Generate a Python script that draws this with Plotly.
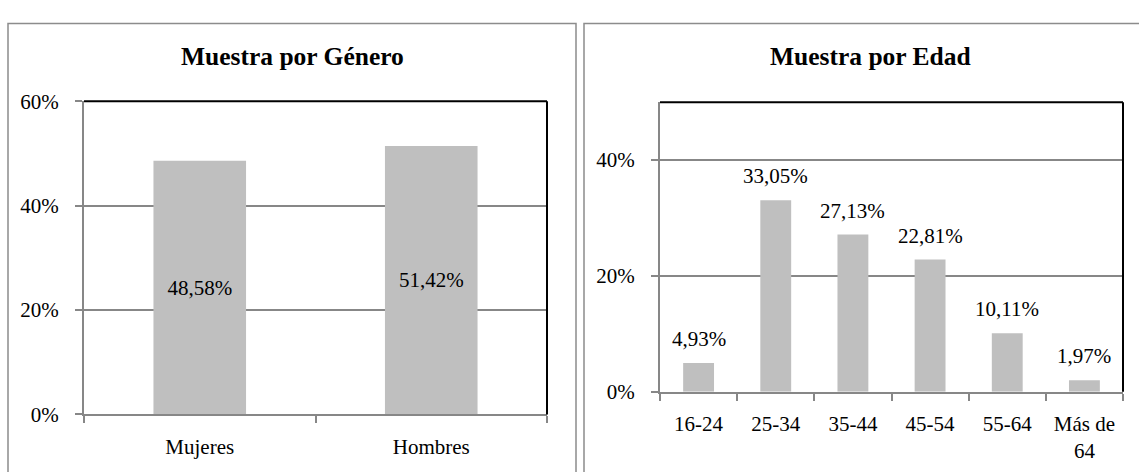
import plotly.graph_objects as go

W, H = 1139, 472

# ---- data ----
gender_categories = ["Mujeres", "Hombres"]
gender_values = [48.58, 51.42]
age_categories = ["16-24", "25-34", "35-44", "45-54", "55-64", "Más de<br>64"]
age_values = [4.93, 33.05, 27.13, 22.81, 10.11, 1.97]
title_left = "Muestra por Género"
title_right = "Muestra por Edad"

FONT = "Liberation Serif"
BAR = "#BFBFBF"
GRID = "#878787"
TXT = 21
TITLE = 25.5


def fmt(v):
    return f"{v:.2f}%".replace(".", ",")


def px(x):
    return x / W


def py(y):
    return (H - y) / H


fig = go.Figure()

fig.add_trace(go.Bar(
    x=gender_categories, y=gender_values, xaxis="x", yaxis="y",
    marker=dict(color=BAR, line=dict(width=0)),
    text=[fmt(v) for v in gender_values], textposition="inside",
    insidetextanchor="middle", textangle=0,
    textfont=dict(family=FONT, size=TXT, color="black"),
    showlegend=False, hoverinfo="skip",
))

fig.add_trace(go.Bar(
    x=age_categories, y=age_values, xaxis="x2", yaxis="y2",
    marker=dict(color=BAR, line=dict(width=0)),
    showlegend=False, hoverinfo="skip",
))

annotations = []
for c, v in zip(age_categories, age_values):
    annotations.append(dict(
        x=c, y=v, xref="x2", yref="y2", text=fmt(v), showarrow=False,
        yanchor="bottom", yshift=10,
        font=dict(family=FONT, size=TXT, color="black"),
    ))

annotations.append(dict(
    x=px(292), y=py(47), xref="paper", yref="paper", text=f"<b>{title_left}</b>",
    showarrow=False, xanchor="center", yanchor="middle",
    font=dict(family=FONT, size=TITLE, color="black"),
))
annotations.append(dict(
    x=px(870), y=py(47), xref="paper", yref="paper", text=f"<b>{title_right}</b>",
    showarrow=False, xanchor="center", yanchor="middle",
    font=dict(family=FONT, size=TITLE, color="black"),
))

axis_common = dict(
    showline=True, linecolor=GRID, linewidth=2,
    ticks="outside", ticklen=7, tickcolor=GRID, tickwidth=2,
    tickfont=dict(family=FONT, size=TXT, color="black"),
    zeroline=False, fixedrange=True,
)

shapes = []
# panel borders
for x0, x1 in [(8, 576), (584, 1160)]:
    shapes.append(dict(type="rect", xref="paper", yref="paper",
                       x0=px(x0), x1=px(x1), y0=py(490), y1=py(12),
                       line=dict(color="#8C8C8C", width=1.5), layer="below"))
# black top/right plot borders
for xa, ya in [("x", "y"), ("x2", "y2")]:
    shapes.append(dict(type="line", xref=f"{xa} domain", yref=f"{ya} domain",
                       x0=0, x1=1, y0=1, y1=1, line=dict(color="black", width=2)))
    shapes.append(dict(type="line", xref=f"{xa} domain", yref=f"{ya} domain",
                       x0=1, x1=1, y0=0, y1=1, line=dict(color="black", width=2)))

fig.update_layout(
    width=W, height=H,
    margin=dict(l=0, r=0, t=0, b=0),
    paper_bgcolor="white", plot_bgcolor="white",
    bargap=0.6,
    font=dict(family=FONT, color="black"),
    xaxis=dict(domain=[px(84), px(547)], anchor="y", tickson="boundaries",
               showgrid=False, ticklabelstandoff=12, **axis_common),
    yaxis=dict(domain=[py(424), py(94)], anchor="x", range=[0, 60], dtick=20,
               ticksuffix="%", showgrid=True, gridcolor=GRID, gridwidth=2,
               ticklabelstandoff=12, **axis_common),
    xaxis2=dict(domain=[px(660), px(1123)], anchor="y2", tickson="boundaries",
                showgrid=False, ticklabelstandoff=12, **axis_common),
    yaxis2=dict(domain=[py(400), py(95)], anchor="x2", range=[0, 50], dtick=20,
                ticksuffix="%", showgrid=True, gridcolor=GRID, gridwidth=2,
                ticklabelstandoff=12, **axis_common),
    annotations=annotations,
    shapes=shapes,
)

fig.write_html("out.html")
